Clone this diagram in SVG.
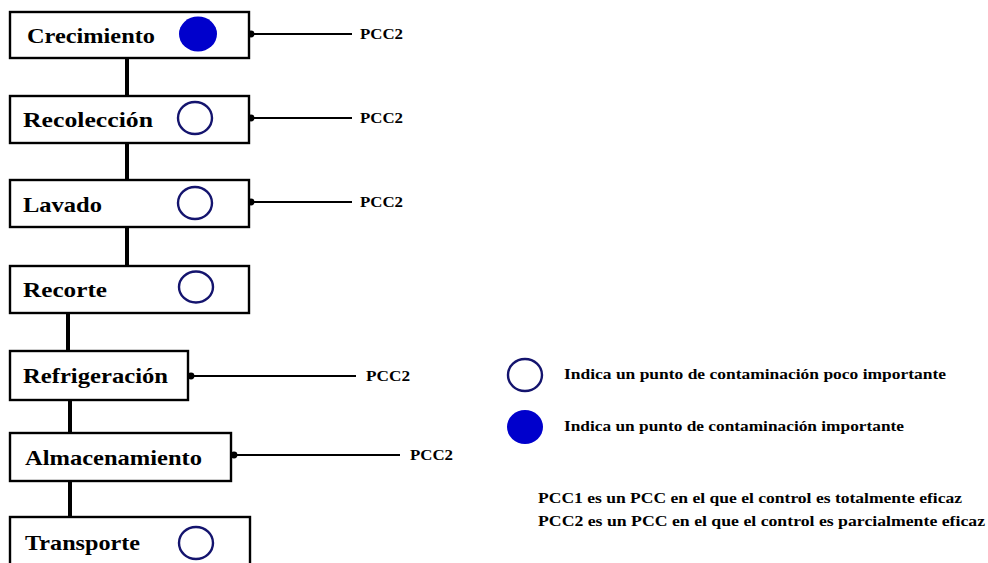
<svg xmlns="http://www.w3.org/2000/svg" width="988" height="563" viewBox="0 0 988 563">
  <defs>
    <marker id="dot" markerWidth="8" markerHeight="8" refX="3" refY="4" markerUnits="userSpaceOnUse">
      <circle cx="4" cy="4" r="3.4" fill="#000"/>
    </marker>
    <style>
      .box { fill: #fff; stroke: #000; stroke-width: 2.4; }
      .lbl { font-family: "Liberation Serif", "Times New Roman", serif; font-weight: bold; font-size: 22px; fill: #000; }
      .pcc { font-family: "Liberation Serif", "Times New Roman", serif; font-weight: bold; font-size: 14px; fill: #000; }
      .note { font-family: "Liberation Serif", "Times New Roman", serif; font-weight: bold; font-size: 14px; fill: #000; }
      .minor { fill: #fff; stroke: #14146e; stroke-width: 2.4; }
      .major { fill: #0000cc; stroke: none; }
      .flow { stroke: #000; stroke-width: 4; fill: none; }
      .link { stroke: #000; stroke-width: 1.8; fill: none; marker-start: url(#dot); }
    </style>
  </defs>
  <rect width="988" height="563" fill="#fff"/>

  <!-- process flow connectors and PCC links -->
  <g id="connectors">
    <line class="flow" x1="127" y1="58" x2="127" y2="96"/>
    <line class="flow" x1="127" y1="143" x2="127" y2="180"/>
    <line class="flow" x1="127" y1="227" x2="127" y2="266"/>
    <line class="flow" x1="68" y1="313" x2="68" y2="351"/>
    <line class="flow" x1="70" y1="400" x2="70" y2="433"/>
    <line class="flow" x1="70" y1="481" x2="70" y2="517"/>
    <line class="link" x1="250" y1="34" x2="352" y2="34"/>
    <line class="link" x1="250" y1="118" x2="352" y2="118"/>
    <line class="link" x1="250" y1="202" x2="352" y2="202"/>
    <line class="link" x1="190" y1="376" x2="356" y2="376"/>
    <line class="link" x1="233" y1="455" x2="400" y2="455"/>
  </g>

  <g id="crecimiento">
    <rect class="box" x="10" y="12" width="239" height="46"/>
    <text class="lbl" x="27" y="43" textLength="128" lengthAdjust="spacingAndGlyphs">Crecimiento</text>
    <ellipse class="major" cx="198" cy="34" rx="19" ry="17.5"/>
  </g>
  <g id="recoleccion">
    <rect class="box" x="10" y="96" width="239" height="47"/>
    <text class="lbl" x="23" y="127" textLength="130" lengthAdjust="spacingAndGlyphs">Recolección</text>
    <ellipse class="minor" cx="195" cy="118" rx="17" ry="16"/>
  </g>
  <g id="lavado">
    <rect class="box" x="10" y="180" width="239" height="47"/>
    <text class="lbl" x="23" y="212" textLength="79" lengthAdjust="spacingAndGlyphs">Lavado</text>
    <ellipse class="minor" cx="195" cy="203" rx="17" ry="16"/>
  </g>
  <g id="recorte">
    <rect class="box" x="10" y="266" width="239" height="47"/>
    <text class="lbl" x="23" y="297" textLength="84" lengthAdjust="spacingAndGlyphs">Recorte</text>
    <ellipse class="minor" cx="196" cy="287" rx="17" ry="15.5"/>
  </g>
  <g id="refrigeracion">
    <rect class="box" x="10" y="351" width="178" height="49"/>
    <text class="lbl" x="23" y="383" textLength="145" lengthAdjust="spacingAndGlyphs">Refrigeración</text>
  </g>
  <g id="almacenamiento">
    <rect class="box" x="10" y="433" width="221" height="48"/>
    <text class="lbl" x="25" y="465" textLength="177" lengthAdjust="spacingAndGlyphs">Almacenamiento</text>
  </g>
  <g id="transporte">
    <rect class="box" x="10" y="517" width="240" height="60"/>
    <text class="lbl" x="25" y="550" textLength="115" lengthAdjust="spacingAndGlyphs">Transporte</text>
    <ellipse class="minor" cx="196" cy="543" rx="17" ry="16"/>
  </g>

  <!-- PCC labels -->
  <g id="pcc-labels">
    <text class="pcc" x="360" y="39" textLength="43" lengthAdjust="spacingAndGlyphs">PCC2</text>
    <text class="pcc" x="360" y="123" textLength="43" lengthAdjust="spacingAndGlyphs">PCC2</text>
    <text class="pcc" x="360" y="207" textLength="43" lengthAdjust="spacingAndGlyphs">PCC2</text>
    <text class="pcc" x="366" y="381" textLength="44" lengthAdjust="spacingAndGlyphs">PCC2</text>
    <text class="pcc" x="410" y="460" textLength="43" lengthAdjust="spacingAndGlyphs">PCC2</text>
  </g>

  <!-- legend -->
  <g id="legend">
    <ellipse class="minor" cx="525" cy="375" rx="17" ry="16"/>
    <text class="note" x="564" y="379" textLength="382" lengthAdjust="spacingAndGlyphs">Indica un punto de contaminación poco importante</text>
    <ellipse class="major" cx="525" cy="427" rx="18" ry="17"/>
    <text class="note" x="564" y="431" textLength="340" lengthAdjust="spacingAndGlyphs">Indica un punto de contaminación importante</text>
    <text class="note" x="538" y="503" textLength="424" lengthAdjust="spacingAndGlyphs">PCC1 es un PCC en el que el control es totalmente eficaz</text>
    <text class="note" x="538" y="526" textLength="447" lengthAdjust="spacingAndGlyphs">PCC2 es un PCC en el que el control es parcialmente eficaz</text>
  </g>
</svg>
